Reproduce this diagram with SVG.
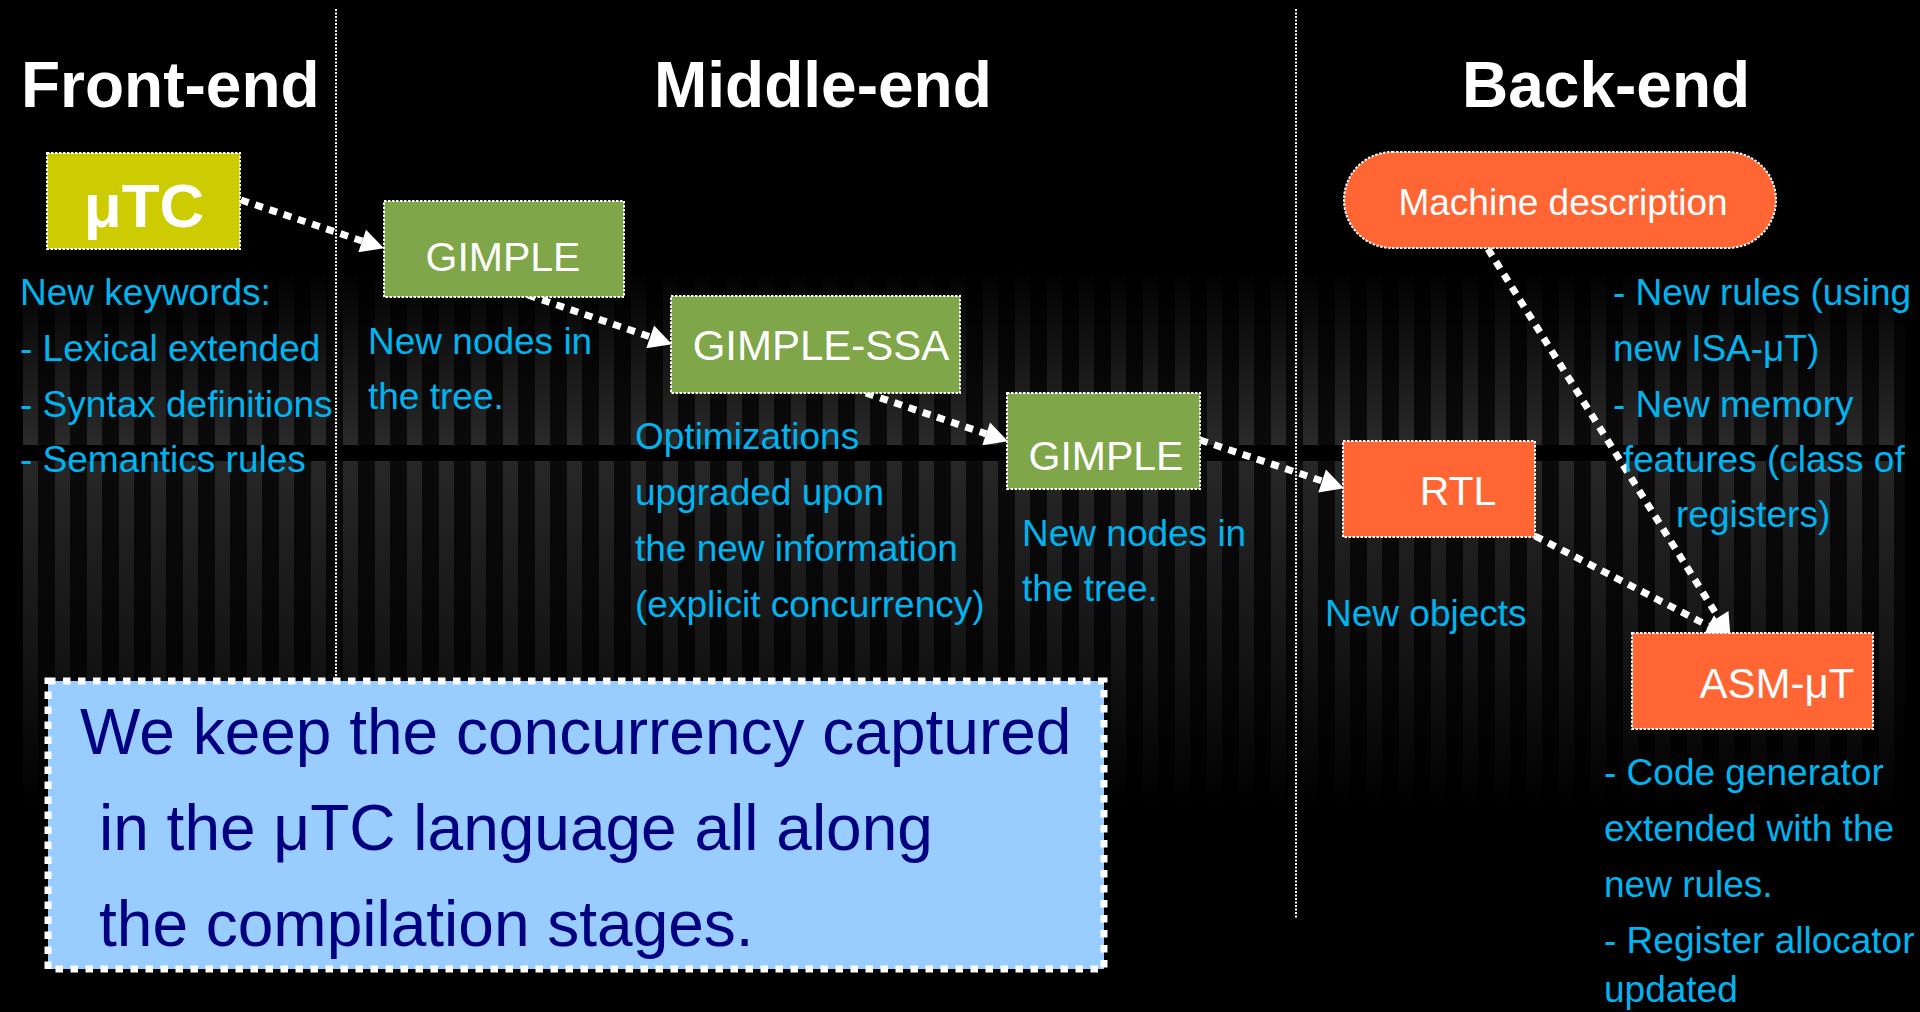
<svg xmlns="http://www.w3.org/2000/svg" width="1920" height="1012" viewBox="0 0 1920 1012">
  <style>
    .title { font-family: "Liberation Sans", Arial, sans-serif; font-weight: bold; font-size: 64px; fill: #ffffff; }
    .label { font-family: "Liberation Sans", Arial, sans-serif; font-size: 41px; fill: #ffffff; text-anchor: middle; }
    .note { font-family: "Liberation Sans", Arial, sans-serif; font-size: 37px; fill: #00B4F0; }
    .big { font-family: "Liberation Sans", Arial, sans-serif; font-size: 64px; fill: #000080; }
    .box { stroke: #ffffff; stroke-width: 2; stroke-dasharray: 2.5 1.5; }
    .divider { stroke: #ffffff; stroke-width: 2; stroke-dasharray: 2 1.5; fill: none; }
    .flow { stroke: #ffffff; stroke-width: 7; stroke-dasharray: 8 7; fill: none; marker-end: url(#head); }
  </style>
  <defs>
    <marker id="head" markerUnits="userSpaceOnUse" markerWidth="24" markerHeight="26" refX="0" refY="0" viewBox="0 -12 23 24" orient="auto" overflow="visible">
      <path d="M0,-11.5 L22,0 L0,11.5 z" fill="#ffffff"/>
    </marker>
    <pattern id="stripes" x="23" y="0" width="32" height="10" patternUnits="userSpaceOnUse">
      <rect x="0" y="0" width="15" height="10" fill="#ffffff"/>
      <rect x="15" y="0" width="17" height="10" fill="#ffffff" opacity="0.25"/>
    </pattern>
    <mask id="stripeMask" maskUnits="userSpaceOnUse" x="0" y="0" width="1920" height="1012">
      <rect x="0" y="0" width="1920" height="1012" fill="url(#stripes)"/>
    </mask>
    <linearGradient id="upperBand" x1="0" y1="0" x2="0" y2="1">
      <stop offset="0" stop-color="#000000"/>
      <stop offset="1" stop-color="#2a2a2a"/>
    </linearGradient>
    <linearGradient id="lowerBand" x1="0" y1="0" x2="0" y2="1">
      <stop offset="0" stop-color="#272727"/>
      <stop offset="0.55" stop-color="#141414"/>
      <stop offset="1" stop-color="#000000"/>
    </linearGradient>
  </defs>

  <!-- background -->
  <rect x="0" y="0" width="1920" height="1012" fill="#000000"/>
  <g id="backdrop" mask="url(#stripeMask)">
    <rect x="23" y="267" width="1882" height="178" fill="url(#upperBand)"/>
    <rect x="23" y="461" width="1882" height="350" fill="url(#lowerBand)"/>
  </g>

  <!-- stage separators -->
  <g id="separators">
    <line class="divider" x1="336" y1="9" x2="336" y2="680"/>
    <line class="divider" x1="1296" y1="9" x2="1296" y2="919"/>
  </g>

  <!-- stage titles -->
  <g id="titles">
    <text class="title" x="21" y="107">Front-end</text>
    <text class="title" x="654" y="107">Middle-end</text>
    <text class="title" x="1462" y="107">Back-end</text>
  </g>

  <!-- connectors -->
  <g id="connectors">
    <line class="flow" x1="241" y1="200" x2="362.2" y2="241"/>
    <line class="flow" x1="528" y1="295" x2="650.2" y2="336.9"/>
    <line class="flow" x1="866" y1="393" x2="986.2" y2="433.9"/>
    <line class="flow" x1="1200" y1="440" x2="1322.1" y2="481"/>
    <line class="flow" x1="1535" y1="536" x2="1708.5" y2="625.9"/>
    <line class="flow" x1="1488" y1="249" x2="1718.3" y2="617.3"/>
  </g>

  <!-- nodes -->
  <g id="utc">
    <rect class="box" x="47" y="153" width="193" height="96" fill="#CCCC00"/>
    <text class="label" x="144" y="227" style="font-weight:bold;font-size:62px">μTC</text>
  </g>
  <g id="gimple1">
    <rect class="box" x="384" y="201" width="240" height="96" fill="#7FA648"/>
    <text class="label" x="503" y="271">GIMPLE</text>
  </g>
  <g id="gimple-ssa">
    <rect class="box" x="671" y="296" width="289" height="97" fill="#7FA648"/>
    <text class="label" x="821" y="360" style="font-size:42px">GIMPLE-SSA</text>
  </g>
  <g id="gimple2">
    <rect class="box" x="1007" y="393" width="193" height="96" fill="#7FA648"/>
    <text class="label" x="1106" y="470">GIMPLE</text>
  </g>
  <g id="machine-description">
    <rect class="box" x="1344" y="152" width="432" height="96" rx="48" ry="48" fill="#FF6633"/>
    <text class="label" x="1563" y="215" style="font-size:37px">Machine description</text>
  </g>
  <g id="rtl">
    <rect class="box" x="1343" y="441" width="192" height="96" fill="#FF6633"/>
    <text class="label" x="1458" y="505">RTL</text>
  </g>
  <g id="asm">
    <rect class="box" x="1632" y="633" width="241" height="96" fill="#FF6633"/>
    <text class="label" x="1777" y="698" style="font-size:42px">ASM-μT</text>
  </g>

  <!-- annotations -->
  <g id="notes">
    <text class="note" x="20" y="305">New keywords:</text>
    <text class="note" x="20" y="361">- Lexical extended</text>
    <text class="note" x="20" y="417">- Syntax definitions</text>
    <text class="note" x="20" y="472">- Semantics rules</text>

    <text class="note" x="368" y="354">New nodes in</text>
    <text class="note" x="368" y="409">the tree.</text>

    <text class="note" x="635" y="449">Optimizations</text>
    <text class="note" x="635" y="505">upgraded upon</text>
    <text class="note" x="635" y="561">the new information</text>
    <text class="note" x="635" y="617">(explicit concurrency)</text>

    <text class="note" x="1022" y="546">New nodes in</text>
    <text class="note" x="1022" y="601">the tree.</text>

    <text class="note" x="1325" y="626">New objects</text>

    <text class="note" x="1613" y="305">- New rules (using</text>
    <text class="note" x="1613" y="361">new ISA-μT)</text>
    <text class="note" x="1613" y="417">- New memory</text>
    <text class="note" x="1623" y="472">features (class of</text>
    <text class="note" x="1676" y="527">registers)</text>

    <text class="note" x="1604" y="785">- Code generator</text>
    <text class="note" x="1604" y="841">extended with the</text>
    <text class="note" x="1604" y="897">new rules.</text>
    <text class="note" x="1604" y="953">- Register allocator</text>
    <text class="note" x="1604" y="1002">updated</text>
  </g>

  <!-- summary box -->
  <g id="summary">
    <rect x="48" y="681" width="1056" height="288" fill="#99CCFF" stroke="#ffffff" stroke-width="7" stroke-dasharray="7.5 7.5"/>
    <text class="big" x="80" y="754">We keep the concurrency captured</text>
    <text class="big" x="99" y="850">in the μTC language all along</text>
    <text class="big" x="99" y="946">the compilation stages.</text>
  </g>
</svg>
